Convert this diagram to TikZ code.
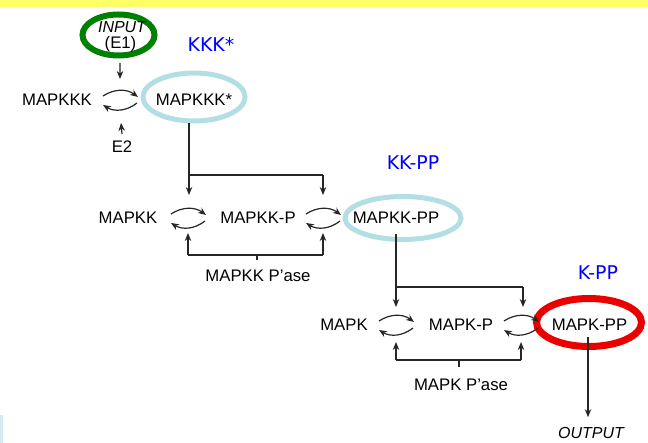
\documentclass[tikz,border=0pt]{standalone}
\usepackage{fontspec}
\setmainfont{Liberation Sans}
\newfontfamily\bluefont{DejaVu Sans}
\usetikzlibrary{arrows.meta,calc,shapes.geometric}
\definecolor{band}{RGB}{255,255,102}
\definecolor{pblue}{RGB}{178,222,228}
\definecolor{dgreen}{RGB}{0,128,0}
\definecolor{fred}{RGB}{235,0,0}
\definecolor{kblue}{RGB}{0,0,255}
\definecolor{strip}{RGB}{214,236,240}
\tikzset{
  lbl/.style={inner sep=0pt,font=\fontsize{16.8}{19}\selectfont},
  ilbl/.style={inner sep=0pt,font=\itshape\fontsize{16}{19}\selectfont},
  tag/.style={inner sep=0pt,text=kblue,font=\bluefont\fontsize{19}{22}\selectfont},
  ring/.style={draw,ellipse,inner sep=0pt},
  ln/.style={line width=1.2bp,draw=black!85},
  arr/.style={ln,-{Stealth[length=8bp,width=6.5bp]}},
  cyc/.style={arr,bend left=35}
}
\begin{document}
\begin{tikzpicture}[x=1bp,y=-1bp]
\useasboundingbox (0,0) rectangle (648,443);
\fill[band] (0,0) rectangle (648,7);
\fill[strip] (0,415) rectangle (3,443);
% rings
\node[ring,draw=dgreen,line width=6bp,minimum width=72bp,minimum height=41bp] (ring0) at (118.5,35) {};
\node[ring,draw=pblue,line width=5bp,minimum width=102bp,minimum height=48bp] (ring1) at (194,97) {};
\node[ring,draw=pblue,line width=5bp,minimum width=116bp,minimum height=43bp] (ring2) at (403,218) {};
\node[ring,draw=fred,line width=7bp,minimum width=105bp,minimum height=48bp] (ring3) at (589,322.5) {};
% texts
\node[ilbl] (input) at (122,27.5) {INPUT};
\node[lbl] (e1) at (120.5,44) {(E1)};
\node[tag] (kkk) at (211,44) {KKK*};
\node[lbl] (mapkkk) at (57,100) {MAPKKK};
\node[lbl] (mapkkks) at (194,99.5) {MAPKKK*};
\node[lbl] (e2) at (122,147) {E2};
\node[lbl] (mapkk) at (128,218) {MAPKK};
\node[lbl] (mapkkp) at (258,218) {MAPKK-P};
\node[lbl] (mapkkpp) at (396,218) {MAPKK-PP};
\node[tag] (kkpp) at (413,163) {KK-PP};
\node[lbl] (kkpase) at (258,276) {MAPKK P'ase};
\node[lbl] (mapk) at (344,325) {MAPK};
\node[lbl] (mapkp) at (461,325) {MAPK-P};
\node[lbl] (mapkpp) at (589.5,325) {MAPK-PP};
\node[tag] (kpp) at (598,273) {K-PP};
\node[lbl] (kpase) at (461,385) {MAPK P'ase};
\node[ilbl] (output) at (591,433) {OUTPUT};
% cycle centres
\coordinate (cy1) at (120,100);
\coordinate (cy2) at (188,218);
\coordinate (cy3) at (323,218);
\coordinate (cy4) at (396,325);
\coordinate (cy5) at (521,325);
\foreach \c in {cy1,cy2,cy3,cy4,cy5}{
  \draw[cyc] ([shift={(-17,-4)}]\c) to ([shift={(18,-3)}]\c);
  \draw[cyc] ([shift={(17,3)}]\c) to ([shift={(-17,5)}]\c);
}
% input and E2
\draw[arr] ([shift={(1.5,28)}]ring0.center) -- ([shift={(0,-21)}]cy1);
\draw[arr] ([shift={(0,-7)}]e2.north) -- ([shift={(1,23)}]cy1);
% stage 1 -> 2
\coordinate (j1) at (189,175);
\coordinate (j2) at (323,175);
\draw[ln] (ring1.south -| j1) -- (j1) -- (j2);
\draw[arr] (j1) -- ([shift={(1,-23)}]cy2);
\draw[arr] (j2) -- ([shift={(0,-23)}]cy3);
% MAPKK P'ase
\coordinate (p1) at (188,255);
\coordinate (p2) at (323,255);
\coordinate (pt) at (257,260);
\draw[ln] (pt) -- (pt |- p1);
\draw[ln] (p1) -- (p2);
\draw[arr] (p1) -- ([shift={(0,15)}]cy2);
\draw[arr] (p2) -- ([shift={(0,15)}]cy3);
% stage 2 -> 3
\coordinate (j3) at (396,287);
\coordinate (j4) at (523,287);
\draw[ln] ([shift={(0,-8)}]ring2.south -| j3) -- (j3) -- (j4);
\draw[arr] (j3) -- ([shift={(0,-18)}]cy4);
\draw[arr] (j4) -- ([shift={(2,-18)}]cy5);
% MAPK P'ase
\coordinate (q1) at (396,360);
\coordinate (q2) at (521,360);
\coordinate (qt) at (459,367);
\draw[ln] (qt) -- (qt |- q1);
\draw[ln] (q1) -- (q2);
\draw[arr] (q1) -- ([shift={(0,17)}]cy4);
\draw[arr] (q2) -- ([shift={(0,17)}]cy5);
% output
\coordinate (o1) at (588,337);
\draw[arr] (o1) -- ([shift={(0,-10)}]output.north -| o1);
\end{tikzpicture}
\end{document}
